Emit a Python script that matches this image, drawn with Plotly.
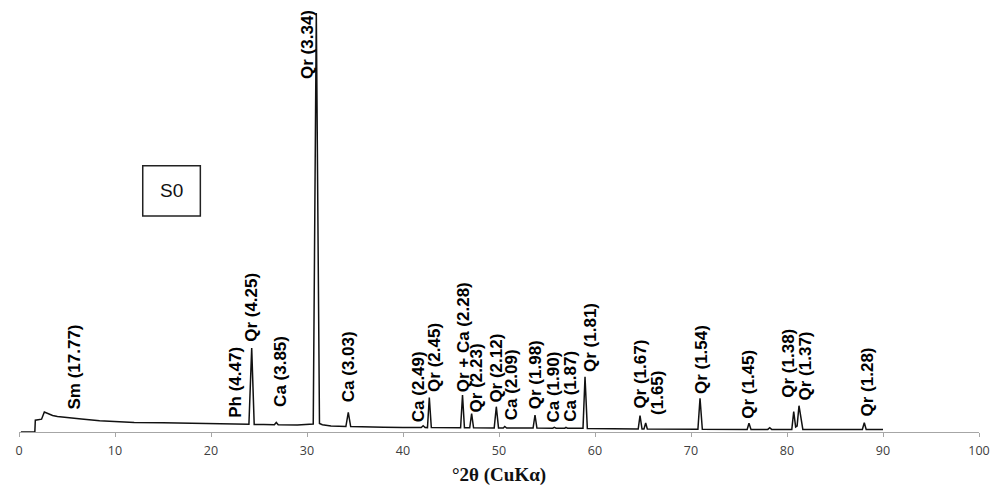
import plotly.graph_objects as go

# Diffraction profile: 2-theta (degrees) and intensity (counts)
two_theta = [
    0.2, 1.65, 1.70, 2.0, 2.35, 2.64, 3.0, 3.5, 4.0, 5.0, 6.5, 8.4, 10.0, 12.0,
    15.0, 18.0, 21.0, 23.0, 23.95, 24.24, 24.5, 25.5, 26.6, 26.8, 27.0, 29.0,
    30.65, 30.97, 31.3, 31.6, 32.5, 34.05, 34.3, 34.55, 36.0, 38.0, 40.0, 41.9,
    42.1, 42.3, 42.55, 42.74, 42.95, 46.0, 46.2, 46.4, 46.95, 47.15, 47.35,
    49.5, 49.72, 49.95, 50.45, 50.6, 50.8, 53.55, 53.75, 53.95, 55.6, 55.76,
    55.95, 56.85, 56.98, 57.15, 58.75, 58.96, 59.2, 61.0, 64.5, 64.69, 64.9,
    65.1, 65.28, 65.45, 68.0, 70.72, 70.94, 71.18, 75.85, 76.04, 76.25, 78.0,
    78.2, 78.4, 80.5, 80.7, 80.9, 81.05, 81.25, 81.46, 81.65, 84.0, 87.85,
    88.05, 88.25, 90.0,
]
counts = [
    0, 0, 118, 122, 128, 200, 182, 165, 155, 143, 130, 113, 104, 96,
    92, 88, 84, 80, 78, 840, 76, 74, 72, 95, 72, 70,
    80, 4190, 85, 72, 60, 55, 197, 55, 50, 48, 45, 45,
    62, 45, 44, 345, 44, 43, 370, 43, 42, 183, 42,
    41, 253, 41, 40, 55, 40, 39, 170, 39, 38, 47,
    38, 38, 47, 37, 37, 553, 36, 34, 30, 163, 30,
    30, 90, 30, 28, 27, 337, 27, 26, 87, 26, 26,
    43, 26, 26, 203, 50, 60, 263, 153, 26, 25, 25,
    93, 25, 25,
]

# Phase labels (d-spacing in Å), their 2-theta position and base height
peak_labels = [
    "Sm (17.77)", "Ph (4.47)", "Qr (4.25)", "Ca (3.85)", "Qr (3.34)",
    "Ca (3.03)", "Ca (2.49)", "Qr (2.45)", "Qr + Ca (2.28)", "Qr (2.23)",
    "Qr (2.12)", "Ca (2.09)", "Qr (1.98)", "Ca (1.90)", "Ca (1.87)",
    "Qr (1.81)", "Qr (1.67)", "(1.65)", "Qr (1.54)", "Qr (1.45)",
    "Qr (1.38)", "Qr (1.37)", "Qr (1.28)",
]
label_theta = [
    5.73, 22.6, 24.2, 27.3, 30.05, 34.27, 41.56, 43.3, 46.25, 47.67,
    49.7, 51.25, 53.75, 55.7, 57.5, 59.6, 64.7, 66.45, 71.1, 76.04,
    80.2, 81.9, 88.4,
]
label_base = [
    210, 137, 890, 237, 3520, 293, 93, 393, 387, 187,
    280, 103, 213, 87, 87, 587, 220, 160, 370, 127,
    337, 303, 147,
]

x_ticks = [0, 10, 20, 30, 40, 50, 60, 70, 80, 90, 100]

fig = go.Figure()
fig.add_trace(go.Scatter(
    x=two_theta, y=counts, mode="lines",
    line=dict(color="#111111", width=1.5),
    hoverinfo="x+y", showlegend=False,
))

for text, xt, yb in zip(peak_labels, label_theta, label_base):
    fig.add_annotation(
        x=xt, y=yb, text=f"<b>{text}</b>", textangle=-90,
        xanchor="center", yanchor="bottom", showarrow=False,
        font=dict(family="Liberation Sans, Arial, sans-serif", size=17, color="#000000"),
        borderpad=0,
    )

# Sample tag
fig.add_shape(type="rect", x0=12.89, x1=18.89, y0=2160, y1=2663,
              xref="x", yref="y", line=dict(color="#222222", width=1.5),
              fillcolor="white", layer="above")
fig.add_annotation(x=15.89, y=2411, text="S0", showarrow=False,
                   font=dict(family="Liberation Sans, Arial, sans-serif", size=19, color="#111111"))

# Axis title
fig.add_annotation(x=50, y=-0.1024, xref="x", yref="paper", yanchor="middle",
                   text="<b>°2θ (CuKα)</b>", showarrow=False,
                   font=dict(family="Liberation Serif, Times New Roman, serif", size=19, color="#111111"))

fig.update_layout(
    width=1003, height=488,
    margin=dict(l=19, r=24, t=12, b=56),
    paper_bgcolor="white", plot_bgcolor="white",
    xaxis=dict(
        range=[0, 100], tickvals=x_ticks, ticktext=[str(t) for t in x_ticks],
        showgrid=False, zeroline=False, showline=True, linecolor="#a6a6a6",
        linewidth=1, ticks="outside", ticklen=4, tickcolor="#a6a6a6",
        ticklabelstandoff=3,
        tickfont=dict(family="Open Sans, sans-serif", size=12.5, color="#404040"),
    ),
    yaxis=dict(range=[0, 4200], visible=False),
)

fig.write_html("out.html")
